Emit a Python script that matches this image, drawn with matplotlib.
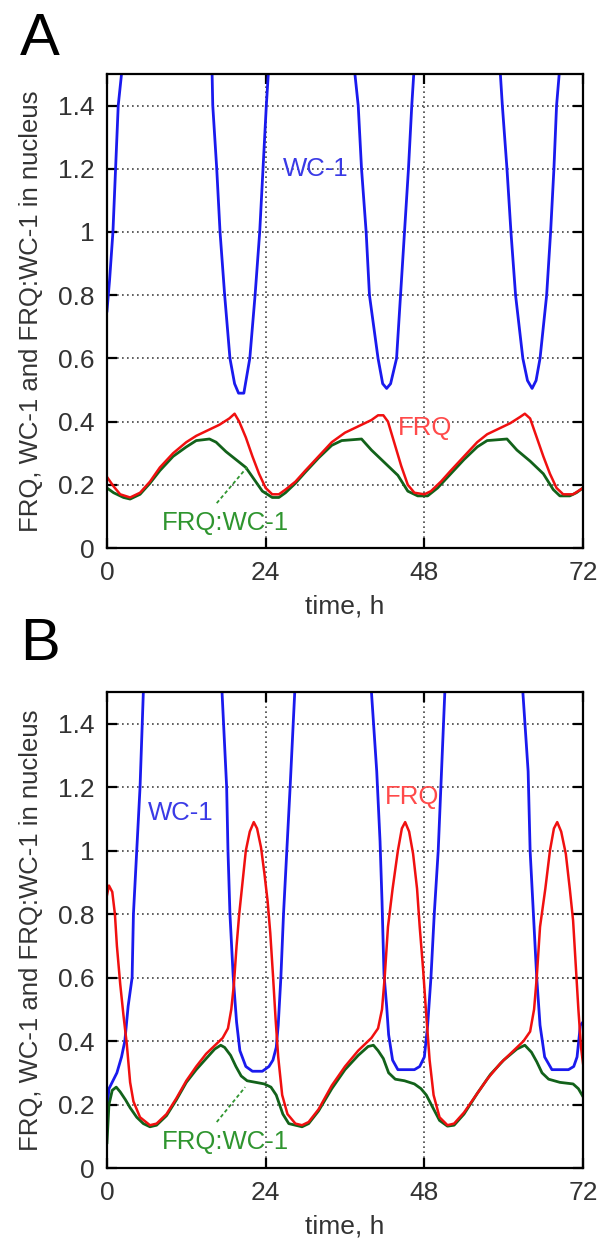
import numpy as np
import matplotlib
matplotlib.use("Agg")
from matplotlib import pyplot as plt

plt.rcParams['font.family'] = ['Liberation Sans', 'DejaVu Sans']

# ---- panel A data (time in h, concentration in nucleus) ----
a_wc1_t = [0, 0.4, 0.9, 1.3, 1.7, 2.2, 9.0, 15.9, 16.0, 16.6, 17.1, 17.8, 18.6, 19.3, 19.9, 20.7,
           21.6, 22.4, 23.1, 23.6, 24.1, 24.4, 31.0, 37.5, 38.0, 38.5, 39.2, 39.7, 41.0, 41.7, 42.3,
           42.9, 43.8, 44.4, 45.0, 45.6, 46.1, 46.4, 53.0, 59.5, 59.8, 60.5, 61.1, 61.8, 62.9, 63.6,
           64.3, 64.9, 65.5, 66.5, 67.1, 67.6, 68.0, 68.4, 72.0]
a_wc1_v = [0.75, 0.85, 1.0, 1.2, 1.4, 1.5, 2.4, 1.5, 1.4, 1.2, 1.0, 0.8, 0.6, 0.52, 0.49, 0.49,
           0.6, 0.8, 1.0, 1.2, 1.4, 1.5, 2.4, 1.5, 1.4, 1.2, 1.0, 0.8, 0.6, 0.52, 0.505,
           0.52, 0.6, 0.8, 1.0, 1.2, 1.4, 1.5, 2.4, 1.5, 1.4, 1.2, 1.0, 0.8, 0.6, 0.53,
           0.505, 0.53, 0.6, 0.8, 1.0, 1.2, 1.4, 1.5, 2.2]

a_frq_t = [0, 1, 2, 3.5, 5, 6.5, 8, 10, 12, 13.5, 15, 17, 18.5, 19.3, 20, 21, 22, 23, 24, 25, 26,
           27, 28.5, 30, 32, 34, 36, 38, 40, 41, 41.8, 42.5, 43.5, 44.5, 45.5, 46.5, 48, 49, 50.5,
           52, 54, 56, 57.5, 59, 61, 62.5, 63.2, 64, 65, 66, 67, 68, 69, 70.5, 72]
a_frq_v = [0.225, 0.195, 0.17, 0.16, 0.175, 0.21, 0.255, 0.30, 0.335, 0.355, 0.37, 0.39, 0.41, 0.425,
           0.40, 0.35, 0.29, 0.235, 0.19, 0.17, 0.17, 0.185, 0.21, 0.245, 0.29, 0.335, 0.365, 0.385,
           0.405, 0.42, 0.42, 0.40, 0.33, 0.26, 0.20, 0.175, 0.17, 0.18, 0.21, 0.245, 0.29, 0.335,
           0.36, 0.375, 0.395, 0.415, 0.425, 0.41, 0.35, 0.29, 0.235, 0.19, 0.17, 0.17, 0.19]

a_cpx_t = [0, 1, 2.5, 3.5, 5, 6.5, 8, 10, 12, 13.5, 15.5, 16.5, 18, 19.5, 21, 22.5, 23.5, 25, 26,
           27, 28.5, 30, 32, 34, 35.5, 38.5, 40, 42, 44, 45.5, 47, 48.5, 50, 52, 54, 56, 57.5,
           60.5, 62, 64, 66, 67.5, 68.5, 70, 71, 72]
a_cpx_v = [0.19, 0.175, 0.16, 0.155, 0.17, 0.205, 0.245, 0.29, 0.32, 0.34, 0.345, 0.335, 0.305,
           0.28, 0.255, 0.21, 0.18, 0.16, 0.16, 0.175, 0.205, 0.24, 0.285, 0.325, 0.34, 0.345,
           0.31, 0.27, 0.23, 0.18, 0.165, 0.165, 0.19, 0.235, 0.28, 0.32, 0.34, 0.345, 0.31,
           0.275, 0.235, 0.185, 0.165, 0.165, 0.175, 0.19]

# ---- panel B data ----
b_wc1_t = [0, 0.3, 1.5, 2.2, 2.7, 3.2, 3.8, 4.0, 4.5, 5.0, 5.5, 11.0, 17.4, 18.1, 18.3, 18.6, 19.1,
           19.6, 20.1, 21.0, 22.0, 23.5, 24.5, 25.1, 25.6, 25.9, 26.3, 26.7, 27.2, 27.7, 28.4,
           34.0, 40.0, 40.8, 41.3, 41.6, 41.9, 42.3, 42.6, 43.2, 44.0, 46.5, 47.3, 48.0, 48.5,
           49.0, 49.5, 50.1, 50.6, 51.1, 57.0, 62.9, 63.7, 64.0, 64.5, 65.0, 65.5, 66.2, 67.3,
           69.8, 70.6, 71.1, 71.6, 72.0]
b_wc1_v = [0.18, 0.25, 0.30, 0.35, 0.40, 0.51, 0.60, 0.80, 1.0, 1.2, 1.5, 2.5, 1.5, 1.2, 1.0, 0.8,
           0.6, 0.46, 0.37, 0.32, 0.305, 0.305, 0.32, 0.34, 0.38, 0.45, 0.6, 0.8, 1.0, 1.2, 1.5,
           2.5, 1.5, 1.25, 1.03, 0.84, 0.61, 0.51, 0.42, 0.34, 0.31, 0.31, 0.32, 0.35, 0.45,
           0.6, 0.8, 1.0, 1.25, 1.5, 2.5, 1.5, 1.25, 1.0, 0.8, 0.6, 0.45, 0.35, 0.31,
           0.31, 0.32, 0.35, 0.45, 0.46]

b_frq_t = [0, 0.3, 0.8, 1.2, 1.5, 2.0, 2.5, 3.0, 3.5, 4.0, 5.0, 6.5, 7.5, 9.0, 10.5, 12.0, 13.5,
           15.0, 16.5, 17.5, 18.3, 18.8, 19.2, 19.6, 20.0, 20.5, 21.0, 21.6, 22.2, 22.7, 23.3,
           23.8, 24.3, 24.7, 25.1, 25.5, 25.9, 26.5, 27.3, 28.5, 29.5, 30.5, 32.0, 34.0, 36.0,
           38.0, 40.0, 41.0, 41.6, 42.0, 42.5, 43.2, 44.0, 44.6, 45.1, 45.7, 46.3, 46.9, 47.3,
           47.8, 48.3, 48.8, 49.4, 50.3, 51.5, 52.5, 54.0, 55.5, 57.5, 59.5, 61.5, 63.0, 64.0,
           64.6, 65.0, 65.5, 66.3, 67.0, 67.6, 68.1, 68.7, 69.4, 70.0, 70.5, 70.9, 71.3, 71.7, 72.0]
b_frq_v = [0.86, 0.89, 0.87, 0.80, 0.70, 0.58, 0.48, 0.39, 0.27, 0.21, 0.16, 0.135, 0.14, 0.17,
           0.22, 0.275, 0.32, 0.36, 0.39, 0.41, 0.44, 0.50, 0.58, 0.70, 0.80, 0.90, 1.0, 1.06,
           1.09, 1.07, 1.01, 0.93, 0.84, 0.74, 0.61, 0.47, 0.35, 0.23, 0.17, 0.14, 0.135, 0.145,
           0.185, 0.26, 0.32, 0.37, 0.41, 0.44, 0.50, 0.60, 0.76, 0.88, 1.0, 1.07, 1.09, 1.06,
           0.99, 0.88, 0.76, 0.63, 0.48, 0.34, 0.23, 0.16, 0.135, 0.14, 0.175, 0.22, 0.28, 0.33,
           0.37, 0.40, 0.43, 0.50, 0.60, 0.76, 0.88, 1.0, 1.07, 1.09, 1.06, 0.99, 0.88, 0.78,
           0.64, 0.50, 0.38, 0.33]

b_cpx_t = [0, 0.3, 0.8, 1.4, 2.0, 2.8, 3.5, 4.5, 5.5, 6.5, 7.5, 9.0, 10.5, 12.0, 13.5, 15.0, 16.3,
           17.2, 17.8, 18.7, 19.5, 20.3, 21.2, 22.5, 23.8, 24.8, 25.6, 26.6, 27.5, 28.5, 29.5,
           30.5, 32.0, 34.0, 36.0, 38.0, 39.5, 40.3, 41.0, 41.8, 42.6, 43.6, 45.0, 46.5, 47.5,
           48.3, 49.3, 50.3, 51.5, 52.5, 54.0, 56.0, 58.0, 60.0, 62.0, 63.2, 64.2, 65.0, 65.8,
           66.8, 68.5, 70.5, 71.3, 72.0]
b_cpx_v = [0.08, 0.20, 0.245, 0.255, 0.24, 0.215, 0.19, 0.16, 0.14, 0.13, 0.135, 0.165, 0.215,
           0.27, 0.31, 0.345, 0.375, 0.387, 0.38, 0.355, 0.32, 0.29, 0.275, 0.27, 0.265, 0.255,
           0.23, 0.17, 0.14, 0.135, 0.13, 0.14, 0.18, 0.25, 0.31, 0.355, 0.383, 0.387, 0.37,
           0.345, 0.30, 0.28, 0.275, 0.265, 0.25, 0.23, 0.19, 0.15, 0.132, 0.135, 0.17, 0.235,
           0.295, 0.34, 0.375, 0.387, 0.365, 0.335, 0.30, 0.28, 0.27, 0.265, 0.25, 0.225]

x_ticks = [0, 24, 48, 72]
y_ticks = [0, 0.2, 0.4, 0.6, 0.8, 1.0, 1.2, 1.4]
y_tick_labels = ['0', '0.2', '0.4', '0.6', '0.8', '1', '1.2', '1.4']

BLUE = '#1a1aee'
RED = '#f01010'
GREEN = '#12621a'
TXT = '#333333'


def draw_panel(ax, wc1, frq, cpx, wc1_pos, frq_pos, cpx_pos, cpx_arrow):
    ax.plot(wc1[0], wc1[1], color=BLUE, lw=2.0)
    ax.plot(cpx[0], cpx[1], color=GREEN, lw=2.0)
    ax.plot(frq[0], frq[1], color=RED, lw=1.8)

    ax.set_xlim(0, 72)
    ax.set_ylim(0, 1.5)
    ax.set_xticks(x_ticks)
    ax.set_yticks(y_ticks)
    ax.set_yticklabels(y_tick_labels)

    # dotted grid: horizontal at every y tick, vertical only inside
    for y in y_ticks[1:]:
        ax.axhline(y, color='#444444', lw=1.2, ls=(0, (1, 2)), zorder=0)
    for x in x_ticks[1:-1]:
        ax.axvline(x, color='#444444', lw=1.2, ls=(0, (1, 2)), zorder=0)

    ax.tick_params(direction='in', length=7, width=1.6, top=True, right=True,
                   labelsize=19, labelcolor=TXT, pad=9)
    for sp in ax.spines.values():
        sp.set_linewidth(1.6)

    ax.set_xlabel('time, h', fontsize=19, color=TXT, labelpad=7)
    ax.set_ylabel('FRQ, WC-1 and FRQ:WC-1 in nucleus', fontsize=18.5, color=TXT, labelpad=11)

    ax.text(wc1_pos[0], wc1_pos[1], 'WC-1', color='#3a3ae6', fontsize=18.5, va='center')
    ax.text(frq_pos[0], frq_pos[1], 'FRQ', color='#ff4a4a', fontsize=18.5, va='center')
    ax.text(cpx_pos[0], cpx_pos[1], 'FRQ:WC-1', color='#2f952f', fontsize=18.5, va='center')
    ax.plot(cpx_arrow[0], cpx_arrow[1], color='#2f952f', lw=1.3, ls=(0, (2, 1.5)))


fig = plt.figure(figsize=(5.99, 12.43), dpi=100)

axA = fig.add_axes([0.1786, 0.5591, 0.7947, 0.3814])
draw_panel(axA, (a_wc1_t, a_wc1_v), (a_frq_t, a_frq_v), (a_cpx_t, a_cpx_v),
           (26.6, 1.2), (44.0, 0.38), (8.3, 0.079), ([16.6, 21.2], [0.142, 0.256]))

axB = fig.add_axes([0.1786, 0.0603, 0.7947, 0.3830])
draw_panel(axB, (b_wc1_t, b_wc1_v), (b_frq_t, b_frq_v), (b_cpx_t, b_cpx_v),
           (6.2, 1.12), (42.0, 1.17), (8.3, 0.082), ([16.6, 20.9], [0.145, 0.255]))

fig.text(0.033, 0.9558, 'A', fontsize=43, color='black')
fig.text(0.033, 0.469, 'B', fontsize=43, color='black')

fig.savefig('out.png', dpi=100)
